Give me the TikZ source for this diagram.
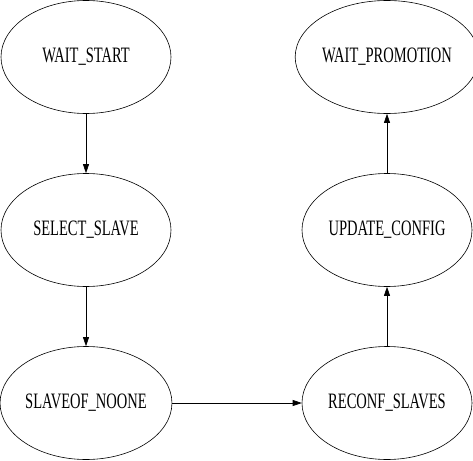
\documentclass[tikz,border=0pt]{standalone}
\usepackage{fontspec}
\setmainfont{Liberation Serif}
\usepackage{graphicx}
\usetikzlibrary{arrows.meta,shapes.geometric}
\newcommand{\lbl}[1]{\scalebox{0.66}[1]{#1}}
\tikzset{
  state/.style ={draw=black, line width=0.6pt, ellipse, inner sep=0pt,
                 minimum width=170pt, minimum height=113pt,
                 font=\fontsize{22}{24}\selectfont},
  ar/.style    ={-{Triangle[length=9pt,width=6pt]}, draw=black,
                 line width=0.6pt}
}

\begin{document}
\begin{tikzpicture}[x=1pt,y=-1pt]
\useasboundingbox (0,0) rectangle (473,460);
\node[state] (wstart)  at (86,57)   {\lbl{WAIT\_START}};
\node[state] (select)  at (86,230)  {\lbl{SELECT\_SLAVE}};
\node[state] (noone)   at (86,403)  {\lbl{SLAVEOF\_NOONE}};
\node[state] (reconf)  at (387,403) {\lbl{RECONF\_SLAVES}};
\node[state] (update)  at (387,230) {\lbl{UPDATE\_CONFIG}};
\node[state] (wpromo)  at (387,57)  {\lbl{WAIT\_PROMOTION}};
\draw[ar] (wstart) -- (select);
\draw[ar] (select) -- (noone);
\draw[ar] (noone)  -- (reconf);
\draw[ar] (reconf) -- (update);
\draw[ar] (update) -- (wpromo);
\end{tikzpicture}
\end{document}
